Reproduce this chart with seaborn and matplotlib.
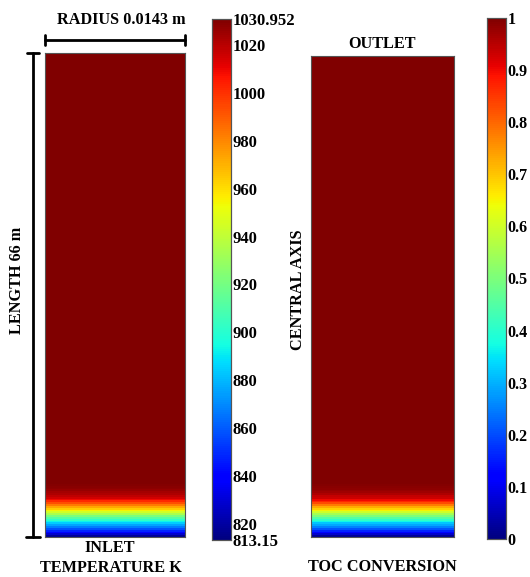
import numpy as np
import pandas as pd
import matplotlib
matplotlib.use("Agg")
import matplotlib.pyplot as plt
from matplotlib.lines import Line2D
import seaborn as sns

# ---------------- data ----------------
reactor_length_m = 66
radius_m = 0.0143
axial_step_m = 0.25
T_min = 813.15
T_max = 1030.952

# temperature near the inlet (every 0.25 m, from inlet upward)
temperature_inlet_profile = [818, 828, 838, 848, 858, 867, 876, 884, 893, 902,
                             911, 922, 934, 945, 955, 964, 973, 983, 993, 1002,
                             1009, 1015, 1019, 1022, 1024, 1026, 1028, 1029, 1030, 1030.5]
# TOC conversion near the inlet (every 0.25 m, from inlet upward)
conversion_inlet_profile = [0.02, 0.07, 0.11, 0.16, 0.21, 0.25, 0.29, 0.32, 0.37, 0.41,
                            0.45, 0.50, 0.55, 0.60, 0.65, 0.69, 0.73, 0.78, 0.83, 0.87,
                            0.90, 0.93, 0.94, 0.96, 0.97, 0.98, 0.986, 0.99, 0.995, 0.998]
temperature_plateau = T_max
conversion_plateau = 1.0

temp_ticks = [813.15, 820, 840, 860, 880, 900, 920, 940, 960, 980, 1000, 1020, 1030.952]
temp_tick_labels = ["813.15", "820", "840", "860", "880", "900", "920", "940", "960",
                    "980", "1000", "1020", "1030.952"]
conv_ticks = [0, 0.1, 0.2, 0.3, 0.4, 0.5, 0.6, 0.7, 0.8, 0.9, 1.0]
conv_tick_labels = ["0", "0.1", "0.2", "0.3", "0.4", "0.5", "0.6", "0.7", "0.8", "0.9", "1"]

# ---------------- build grids ----------------
n_rows = int(reactor_length_m / axial_step_m)

def column(profile, plateau):
    vals = list(profile) + [plateau] * (n_rows - len(profile))
    return np.array(vals[::-1])  # top row = outlet

T_grid = pd.DataFrame(np.tile(column(temperature_inlet_profile, temperature_plateau)[:, None], (1, 4)))
X_grid = pd.DataFrame(np.tile(column(conversion_inlet_profile, conversion_plateau)[:, None], (1, 4)))

# ---------------- style ----------------
sns.set_style("white")
plt.rcParams['font.family'] = ['Liberation Serif', 'DejaVu Serif']
plt.rcParams['font.weight'] = 'bold'

W, H = 530, 577
fig = plt.figure(figsize=(W / 100, H / 100), dpi=100)

def box(x0, y0, x1, y1):
    return [x0 / W, (H - y1) / H, (x1 - x0) / W, (y1 - y0) / H]

ax1 = fig.add_axes(box(45, 53, 185, 537))
cax1 = fig.add_axes(box(212, 19, 231, 540))
ax2 = fig.add_axes(box(311, 56, 454, 537))
cax2 = fig.add_axes(box(487, 18, 506, 539))

sns.heatmap(T_grid, ax=ax1, cmap="jet", vmin=T_min, vmax=T_max, cbar_ax=cax1,
            xticklabels=False, yticklabels=False)
sns.heatmap(X_grid, ax=ax2, cmap="jet", vmin=0, vmax=1, cbar_ax=cax2,
            xticklabels=False, yticklabels=False)

for ax in (ax1, ax2):
    for s in ax.spines.values():
        s.set_visible(True)
        s.set_color("#555555")
        s.set_linewidth(0.8)

for cax, ticks, labels, fs in ((cax1, temp_ticks, temp_tick_labels, 12),
                               (cax2, conv_ticks, conv_tick_labels, 11.5)):
    cax.set_yticks(ticks)
    cax.set_yticklabels(labels, fontsize=fs, fontweight='bold', family='Liberation Serif')
    cax.tick_params(axis='y', direction='in', left=True, right=True, length=3, width=0.6,
                    pad=1, colors='black')
    for s in cax.spines.values():
        s.set_visible(True)
        s.set_color("#555555")
        s.set_linewidth(0.8)

lab = dict(fontsize=11.7, fontweight='bold', family='Liberation Serif', color='black')

def ft(x, y):
    return x / W, (H - y) / H

fig.text(*ft(121, 20), f"RADIUS {radius_m} m", ha='center', va='center', **lab)
fig.text(*ft(17, 280), f"LENGTH {reactor_length_m} m", rotation=90, ha='center', va='center', **lab)
fig.text(*ft(110, 548), "INLET", ha='center', va='center', **lab)
fig.text(*ft(111, 568), "TEMPERATURE K", ha='center', va='center', **lab)
fig.text(*ft(382, 44), "OUTLET", ha='center', va='center', **lab)
fig.text(*ft(298, 290), "CENTRAL AXIS", rotation=90, ha='center', va='center', **lab)
fig.text(*ft(382, 567), "TOC CONVERSION", ha='center', va='center', **lab)

def seg(x0, y0, x1, y1):
    fig.add_artist(Line2D([x0 / W, x1 / W], [(H - y0) / H, (H - y1) / H],
                          transform=fig.transFigure, color='black', lw=2))

# radius dimension line
seg(45, 40, 185, 40)
seg(45, 35, 45, 45)
seg(185, 35, 185, 45)
# length dimension line
seg(33, 53, 33, 537)
seg(27, 53, 39, 53)
seg(26, 537, 40, 537)

fig.savefig("out.png", dpi=100)
